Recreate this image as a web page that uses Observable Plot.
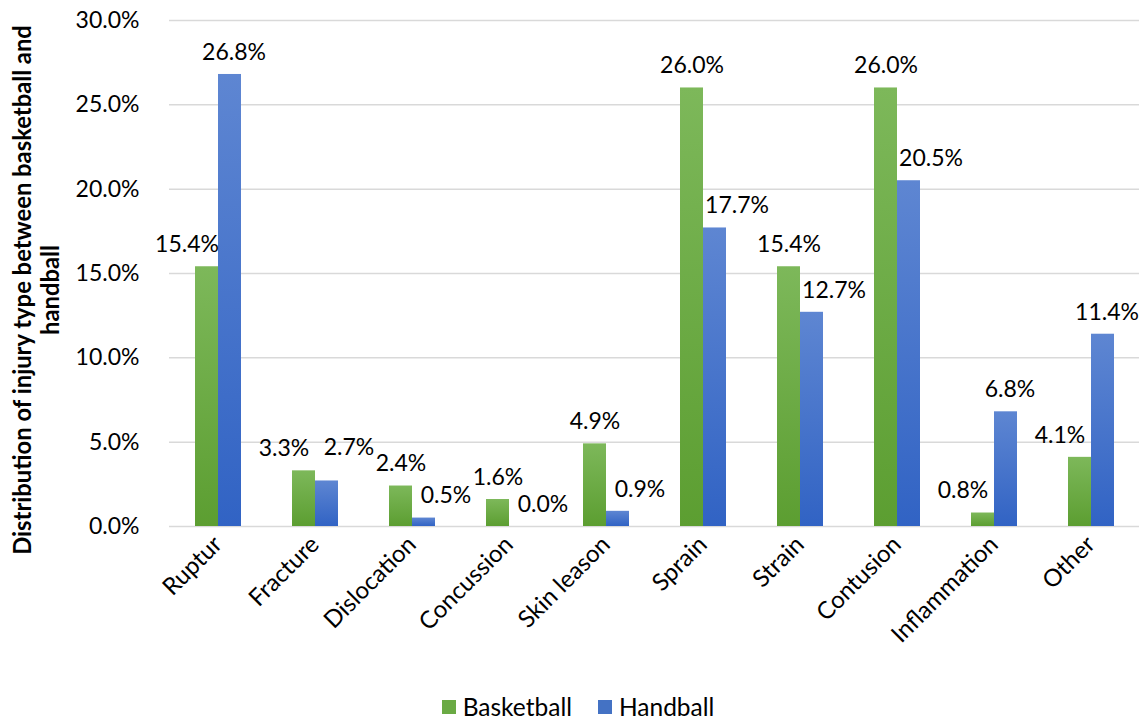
<!DOCTYPE html>
<html>
<head>
<meta charset="utf-8">
<script src="https://cdn.jsdelivr.net/npm/d3@7"></script>
<script src="https://cdn.jsdelivr.net/npm/@observablehq/plot@0.6"></script>
<style>
  html, body { margin: 0; padding: 0; background: #fff; }
  #chart { width: 1140px; height: 680px; }
  .legend { font-family: Lato, "Open Sans", sans-serif; font-size: 24.5px; color: #000;
            display: flex; justify-content: center; align-items: center; gap: 26px;
            margin-top: 14px; height: 26px; line-height: 26px; padding-left: 8px; width: 1140px; }
  .legend .sw { display: inline-block; width: 14px; height: 14px; margin-right: 7px; }
  .legend .item { display: flex; align-items: center; }
</style>
</head>
<body>
<div id="chart"></div>
<div class="legend" id="legend"></div>
<script>
const categories = ["Ruptur","Fracture","Dislocation","Concussion","Skin leason","Sprain","Strain","Contusion","Inflammation","Other"];
const series = ["Basketball","Handball"];
const basketball = [15.4, 3.3, 2.4, 1.6, 4.9, 26.0, 15.4, 26.0, 0.8, 4.1];
const handball = [26.8, 2.7, 0.5, 0.0, 0.9, 17.7, 12.7, 20.5, 6.8, 11.4];
const yTicks = [0, 5, 10, 15, 20, 25, 30];
const yTitle = ["Distribution of injury type between basketball and", "handball"];
const seriesColors = ["#6aaa44", "#4472c4"];

const data = [];
categories.forEach((c, i) => {
  data.push({category: c, series: "Basketball", value: basketball[i], other: handball[i]});
  data.push({category: c, series: "Handball", value: handball[i], other: basketball[i]});
});

const font = "Lato, 'Open Sans', sans-serif";
const fmt = v => v.toFixed(1) + "%";
const isG = d => d.series === "Basketball";
const close = d => Math.abs(d.value - d.other) < 1;
const labelOpts = {fx: "category", x: "series", y: "value", text: d => fmt(d.value), fill: "#000", dy: -22};

const plot = Plot.plot({
  width: 1140,
  height: 680,
  marginLeft: 167,
  marginRight: 0,
  marginTop: 20,
  marginBottom: 154,
  style: {fontFamily: font, fontSize: "23px", color: "#000", background: "#fff", overflow: "visible"},
  fx: {domain: categories, padding: 0, label: null, tickRotate: -45, tickSize: 0, tickPadding: 14},
  x: {domain: series, paddingInner: 0, paddingOuter: 1.03, axis: null},
  y: {domain: [0, 30], ticks: yTicks, tickFormat: fmt, tickSize: 0, tickPadding: 30, label: null},
  color: {domain: series, range: ["url(#gradGreen)", "url(#gradBlue)"]},
  marks: [
    Plot.ruleY(yTicks, {stroke: "#d9d9d9", strokeWidth: 1.5}),
    Plot.barY(data, {fx: "category", x: "series", y: "value", fill: "series"}),
    // green labels: shifted left when the blue bar is taller or the two are close
    Plot.text(data.filter(d => isG(d) && (d.value < d.other || close(d))), {...labelOpts, dx: -20}),
    Plot.text(data.filter(d => isG(d) && !(d.value < d.other || close(d))), {...labelOpts, dx: 0}),
    // blue labels: shifted right when the green bar is taller
    Plot.text(data.filter(d => !isG(d) && d.value < d.other && !close(d)), {...labelOpts, dx: 22}),
    Plot.text(data.filter(d => !isG(d) && d.value < d.other && close(d)), {...labelOpts, dx: 22, dy: -33}),
    Plot.text(data.filter(d => !isG(d) && d.value >= d.other), {...labelOpts, dx: 4})
  ]
});

const svg = d3.select(plot);
svg.selectAll("g[aria-label='fx-axis tick label'] text").attr("font-size", 24);
const defs = svg.insert("defs", ":first-child");
const g1 = defs.append("linearGradient").attr("id", "gradGreen").attr("x1", 0).attr("y1", 0).attr("x2", 0).attr("y2", 1);
g1.append("stop").attr("offset", "0%").attr("stop-color", "#7db85a");
g1.append("stop").attr("offset", "100%").attr("stop-color", "#5c9e31");
const g2 = defs.append("linearGradient").attr("id", "gradBlue").attr("x1", 0).attr("y1", 0).attr("x2", 0).attr("y2", 1);
g2.append("stop").attr("offset", "0%").attr("stop-color", "#5e86d2");
g2.append("stop").attr("offset", "100%").attr("stop-color", "#3163c4");

// two-line y-axis title
const t = svg.append("text")
  .attr("transform", "translate(23,290) rotate(-90)")
  .attr("text-anchor", "middle")
  .attr("font-family", font)
  .attr("font-weight", "bold")
  .attr("font-size", 23.8)
  .attr("fill", "#000");
t.append("tspan").attr("x", 0).attr("dy", "0.35em").text(yTitle[0]);
t.append("tspan").attr("x", 0).attr("dy", "1.18em").text(yTitle[1]);

document.getElementById("chart").appendChild(plot);

const legend = d3.select("#legend");
series.forEach((s, i) => {
  const it = legend.append("div").attr("class", "item");
  it.append("span").attr("class", "sw").style("background", seriesColors[i]);
  it.append("span").text(s);
});
</script>
</body>
</html>
